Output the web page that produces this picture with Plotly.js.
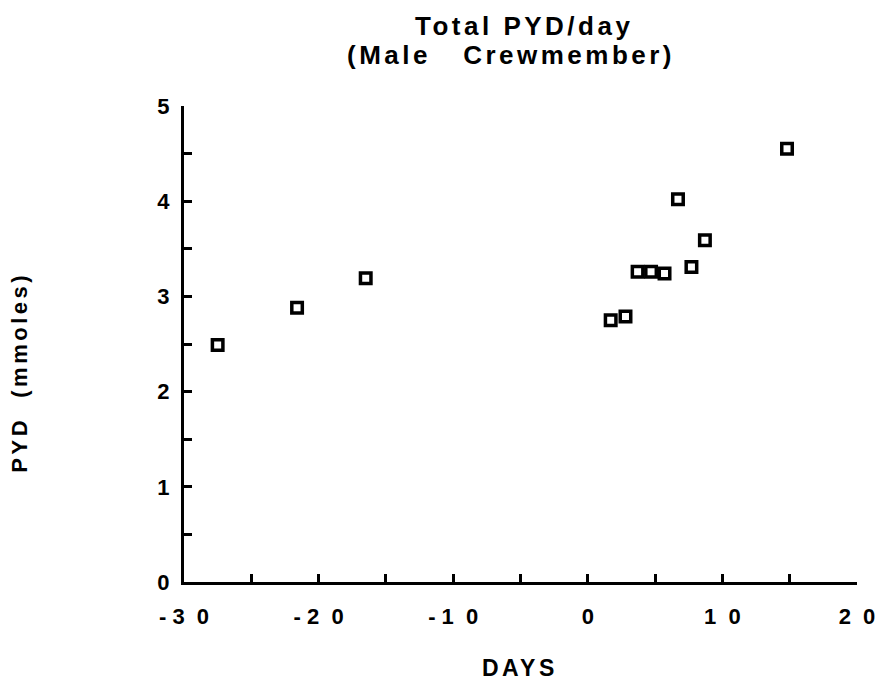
<!DOCTYPE html>
<html><head><meta charset="utf-8">
<script src="https://cdn.plot.ly/plotly-3.0.1.min.js"></script>
<style>
html,body{margin:0;padding:0;background:#fff}
#chart{width:877px;height:686px}
.annotation-text{letter-spacing:3.5px}
</style>
</head><body><div id="chart"></div>
<script>
const days = [-27.5, -21.6, -16.5, 1.7, 2.8, 3.7, 4.7, 5.7, 6.7, 7.7, 8.7, 14.8];
const pyd  = [2.49, 2.88, 3.19, 2.75, 2.79, 3.26, 3.26, 3.24, 4.02, 3.31, 3.59, 4.55];
const xTickVals = [-30, -25, -20, -15, -10, -5, 0, 5, 10, 15, 20];
const xTickText = ['-\u00a03\u00a0\u00a00', '', '-\u00a02\u00a0\u00a00', '', '-\u00a01\u00a0\u00a00', '', '0', '', '1\u00a0\u00a00', '', '2\u00a0\u00a00'];
const yTickVals = [0, 0.5, 1, 1.5, 2, 2.5, 3, 3.5, 4, 4.5, 5];
const yTickText = ['0', '', '1', '', '2', '', '3', '', '4', '', '5'];
const titleLines = ['Total PYD/day', '(Male\u00a0\u00a0\u00a0Crewmember)'];
const xTitle = 'DAYS';
const yTitle = 'PYD\u00a0\u00a0(mmoles)';

const fam = 'Liberation Sans, Arial, sans-serif';
const trace = {
  x: days, y: pyd, type: 'scatter', mode: 'markers',
  marker: {symbol: 'square-open', size: 10.5, color: '#000', line: {width: 3.5, color: '#000'}},
  cliponaxis: false, hoverinfo: 'x+y'
};
const axisCommon = {
  showgrid: false, zeroline: false,
  showline: true, linewidth: 3, linecolor: '#000',
  tickmode: 'array',
  ticks: 'inside', ticklen: 8, tickwidth: 3, tickcolor: '#000',
  title: {text: ''}
};
const layout = {
  width: 877, height: 686,
  margin: {l: 184, r: 20, t: 106, b: 104},
  paper_bgcolor: '#fff', plot_bgcolor: '#fff',
  showlegend: false,
  font: {family: fam, color: '#000'},
  xaxis: Object.assign({}, axisCommon, {
    range: [-30, 20], tickvals: xTickVals, ticktext: xTickText,
    tickfont: {family: fam, size: 22, weight: 'bold', color: '#000'},
    ticklabelstandoff: 13
  }),
  yaxis: Object.assign({}, axisCommon, {
    range: [0, 5], tickvals: yTickVals, ticktext: yTickText,
    tickfont: {family: fam, size: 22, weight: 'bold', color: '#000'},
    ticklabelstandoff: 7
  }),
  annotations: [
    {text: titleLines[0], xref: 'paper', yref: 'paper', x: 0.505, y: 1.168, xanchor: 'center', yanchor: 'middle',
     showarrow: false, font: {family: fam, size: 26, weight: 'bold', color: '#000'}},
    {text: titleLines[1], xref: 'paper', yref: 'paper', x: 0.486, y: 1.107, xanchor: 'center', yanchor: 'middle',
     showarrow: false, font: {family: fam, size: 26, weight: 'bold', color: '#000'}},
    {text: xTitle, xref: 'paper', yref: 'paper', x: 0.499, y: -0.181, xanchor: 'center', yanchor: 'middle',
     showarrow: false, font: {family: fam, size: 23, weight: 'bold', color: '#000'}},
    {text: yTitle, xref: 'paper', yref: 'paper', x: -0.245, y: 0.44, xanchor: 'center', yanchor: 'middle',
     textangle: -90, showarrow: false, font: {family: fam, size: 22, weight: 'bold', color: '#000'}}
  ]
};
Plotly.newPlot('chart', [trace], layout, {displayModeBar: false, staticPlot: true});
</script></body></html>
